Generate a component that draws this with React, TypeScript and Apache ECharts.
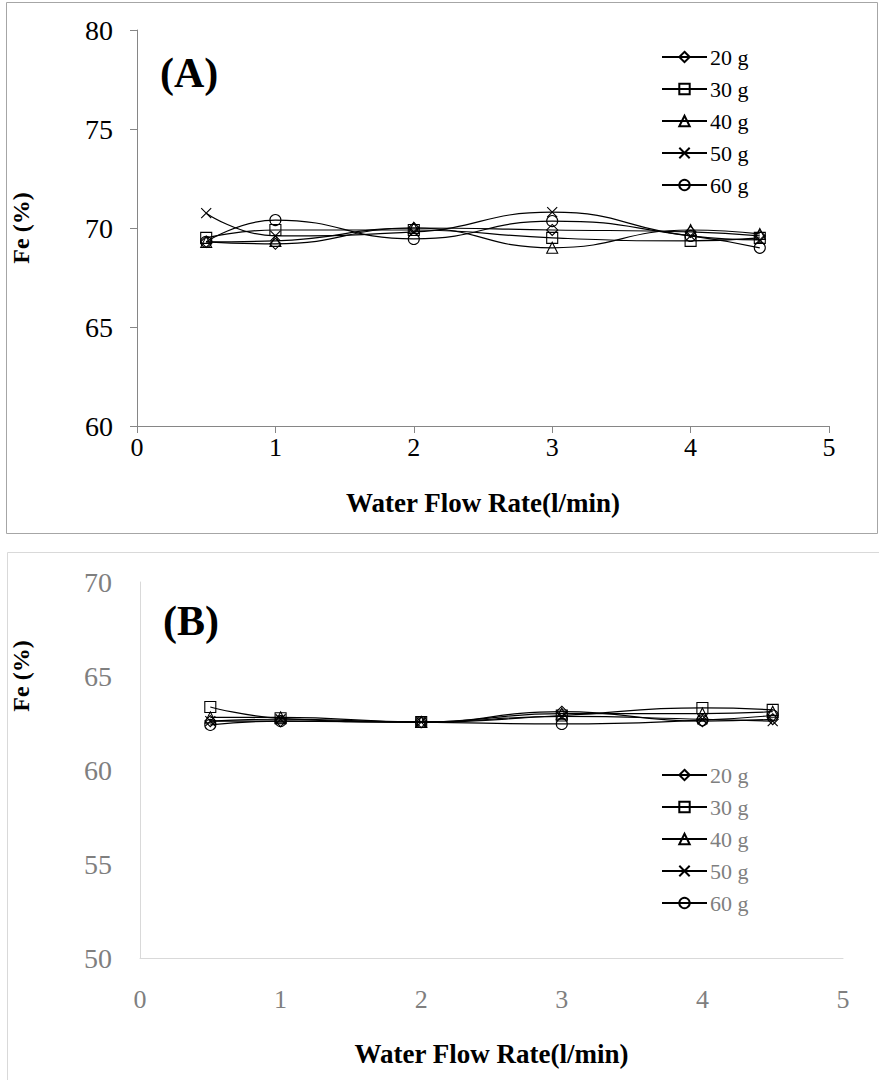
import React, { useEffect, useRef } from "react";
import * as echarts from "echarts";

const flowRates = [0.5, 1, 2, 3, 4, 4.5];
const seriesNames = ["20 g", "30 g", "40 g", "50 g", "60 g"];

// Panel A: Fe (%)
const feA_20 = [69.3, 69.2, 70.0, 69.9, 69.8, 69.6];
const feA_30 = [69.5, 69.9, 69.9, 69.5, 69.35, 69.5];
const feA_40 = [69.3, 69.35, 70.0, 69.0, 69.9, 69.7];
const feA_50 = [70.75, 69.6, 69.8, 70.8, 69.6, 69.4];
const feA_60 = [69.3, 70.4, 69.45, 70.35, 69.6, 69.0];

// Panel B: Fe (%)
const feB_20 = [62.6, 62.6, 62.55, 63.1, 62.6, 62.7];
const feB_30 = [63.35, 62.75, 62.55, 62.9, 63.3, 63.2];
const feB_40 = [62.8, 62.8, 62.55, 63.0, 63.0, 63.1];
const feB_50 = [62.6, 62.7, 62.55, 62.85, 62.7, 62.6];
const feB_60 = [62.4, 62.6, 62.55, 62.45, 62.65, 62.9];

const xTicks = [0, 1, 2, 3, 4, 5];
const yTicksA = [60, 65, 70, 75, 80];
const yTicksB = [50, 55, 60, 65, 70];

const xName = "Water Flow Rate(l/min)";
const yName = "Fe (%)";

const FONT = "Liberation Serif";
const crossPath = "path://M0,0L10,10M0,10L10,0";
const symbols = ["diamond", "rect", "triangle", crossPath, "circle"];

export default function App() {
  const ref = useRef<HTMLDivElement>(null);
  useEffect(() => {
    if (!ref.current) return;
    const chart = echarts.init(ref.current, null, { renderer: "svg" });
    const dataA = [feA_20, feA_30, feA_40, feA_50, feA_60];
    const dataB = [feB_20, feB_30, feB_40, feB_50, feB_60];

    const mkSeries = (vals: number[], i: number, panel: number) => ({
      name: seriesNames[i],
      type: "line",
      xAxisIndex: panel,
      yAxisIndex: panel,
      smooth: 0.5,
      symbol: symbols[i],
      symbolSize: i === 3 ? 10 : 11,
      showAllSymbol: true,
      data: flowRates.map((x, k) => [x, vals[k]]),
      lineStyle: { color: "#000", width: 1.2 },
      itemStyle: { color: "rgba(255,255,255,0)", borderColor: "#000", borderWidth: 1.1 },
      emphasis: { disabled: true },
    });

    const xAxisBase = (grid: number, color: string, labelColor: string, ticks: boolean, margin: number, nameGap: number) => ({
      type: "value",
      gridIndex: grid,
      min: xTicks[0],
      max: xTicks[xTicks.length - 1],
      interval: 1,
      axisLine: { show: true, onZero: false, lineStyle: { color, width: 1 } },
      axisTick: { show: ticks, length: 7, lineStyle: { color } },
      splitLine: { show: false },
      axisLabel: { fontFamily: FONT, fontSize: 26, color: labelColor, margin },
      name: xName,
      nameLocation: "middle",
      nameGap,
      nameTextStyle: { fontFamily: FONT, fontSize: 27, fontWeight: "bold", color: "#000" },
    });

    const yAxisBase = (grid: number, ticksArr: number[], color: string, labelColor: string, ticks: boolean, margin: number) => ({
      type: "value",
      gridIndex: grid,
      min: ticksArr[0],
      max: ticksArr[ticksArr.length - 1],
      interval: 5,
      axisLine: { show: true, onZero: false, lineStyle: { color, width: 1 } },
      axisTick: { show: ticks, length: 7, lineStyle: { color } },
      splitLine: { show: false },
      axisLabel: { fontFamily: FONT, fontSize: 28, color: labelColor, margin },
    });

    const legendBase = (top: number, textColor: string) => ({
      orient: "vertical",
      left: 656,
      top,
      itemWidth: 45,
      itemHeight: 13,
      itemGap: 10,
      selectedMode: false,
      data: seriesNames,
      textStyle: { fontFamily: FONT, fontSize: 22, color: textColor, lineHeight: 22, padding: [0, 0, 0, -2] },
    });

    const yTitle = (x: number, y: number) => ({
      type: "text",
      x,
      y,
      rotation: Math.PI / 2,
      style: { text: yName, fontFamily: FONT, fontSize: 24, fontWeight: "bold", fill: "#000", align: "center", verticalAlign: "middle" },
    });

    chart.setOption({
      animation: false,
      backgroundColor: "#fff",
      grid: [
        { left: 137, top: 30, width: 692, height: 396 },
        { left: 140, top: 582, width: 703, height: 376 },
      ],
      xAxis: [
        xAxisBase(0, "#868686", "#000", true, 8, 63),
        xAxisBase(1, "#d9d9d9", "#7f7f7f", false, 28, 82),
      ],
      yAxis: [
        yAxisBase(0, yTicksA, "#868686", "#000", true, 24),
        yAxisBase(1, yTicksB, "#d9d9d9", "#7f7f7f", false, 28),
      ],
      legend: [legendBase(41, "#000"), legendBase(759, "#7f7f7f")],
      series: [
        ...dataA.map((v, i) => mkSeries(v, i, 0)),
        ...dataB.map((v, i) => mkSeries(v, i, 1)),
      ],
      graphic: [
        { type: "rect", shape: { x: 6.5, y: 2.5, width: 871, height: 531 }, style: { fill: "none", stroke: "#a6a6a6", lineWidth: 1 }, silent: true },
        { type: "rect", shape: { x: 7.5, y: 552.5, width: 900, height: 560 }, style: { fill: "none", stroke: "#d9d9d9", lineWidth: 1 }, silent: true },
        { type: "text", left: 160, top: 52, style: { text: "(A)", fontFamily: FONT, fontSize: 42, fontWeight: "bold", fill: "#000" } },
        { type: "text", left: 163, top: 600, style: { text: "(B)", fontFamily: FONT, fontSize: 42, fontWeight: "bold", fill: "#000" } },
        yTitle(21, 228),
        yTitle(21, 676),
      ],
    });
    return () => chart.dispose();
  }, []);
  return <div ref={ref} style={{ position: "absolute", left: 0, top: 0, width: 879, height: 1080 }} />;
}
